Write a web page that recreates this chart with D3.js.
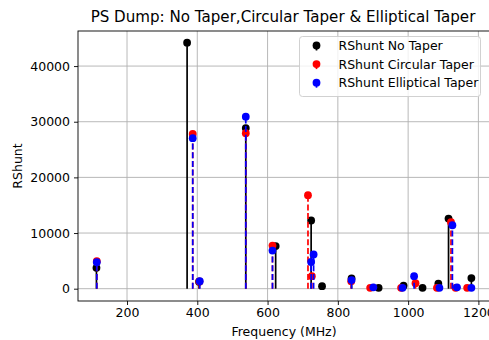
<!DOCTYPE html>
<html>
<head>
<meta charset="utf-8">
<script src="https://cdn.jsdelivr.net/npm/d3@7"></script>
<style>
  body { margin: 0; background: #fff; }
  svg { font-family: "DejaVu Sans", sans-serif; }
</style>
</head>
<body>
<svg id="chart" width="489" height="340"></svg>
<script>
// mode frequencies (MHz) and shunt impedance per taper type
const noTaperFreq = [113, 371, 405, 538, 623, 724, 755, 839, 916, 987, 1041, 1086, 1115, 1180];
const noTaperR    = [3750, 44200, 1250, 28850, 7650, 12250, 450, 1850, 150, 550, 150, 900, 12600, 1900];

const circFreq = [114, 387, 406, 538, 614, 715, 726, 838, 892, 980, 1021, 1082, 1122, 1135, 1168];
const circR    = [4950, 27800, 1300, 27950, 7750, 16800, 2250, 1350, 150, 150, 1000, 150, 11950, 150, 150];

const ellFreq = [114, 387, 407, 538, 614, 724, 731, 839, 901, 984, 1017, 1089, 1126, 1139, 1180];
const ellR    = [4750, 27050, 1350, 30900, 6850, 4800, 6150, 1550, 250, 150, 2250, 150, 11400, 250, 150];

const xTicks = [200, 400, 600, 800, 1000, 1200];
const yTicks = [0, 10000, 20000, 30000, 40000];

const series = [
  { name: "RShunt No Taper", freq: noTaperFreq, r: noTaperR, color: "#000000", dash: null },
  { name: "RShunt Circular Taper", freq: circFreq, r: circR, color: "#ff0000", dash: "6,2.7" },
  { name: "RShunt Elliptical Taper", freq: ellFreq, r: ellR, color: "#0000ff", dash: "6,2.7" }
];

const m = { left: 78, right: 490, top: 31, bottom: 301 };
const svg = d3.select("#chart");

const x = d3.scaleLinear().domain([60.5, 1233]).range([m.left, m.right]);
const y = d3.scaleLinear().domain([-2210, 46300]).range([m.bottom, m.top]);

svg.append("defs").append("clipPath").attr("id", "clip")
  .append("rect").attr("x", m.left).attr("y", m.top)
  .attr("width", m.right - m.left).attr("height", m.bottom - m.top);

// grid
const grid = svg.append("g").attr("stroke", "#b0b0b0").attr("stroke-width", 0.9);
grid.selectAll(".gx").data(xTicks).enter().append("line")
  .attr("x1", d => x(d)).attr("x2", d => x(d)).attr("y1", m.top).attr("y2", m.bottom);
grid.selectAll(".gy").data(yTicks).enter().append("line")
  .attr("x1", m.left).attr("x2", m.right).attr("y1", d => y(d)).attr("y2", d => y(d));

// stems
const plot = svg.append("g").attr("clip-path", "url(#clip)");
series.forEach(s => {
  const pts = s.freq.map((f, i) => ({ f, r: s.r[i] }));
  const g = plot.append("g");
  g.selectAll("circle").data(pts).enter().append("circle")
    .attr("cx", d => x(d.f)).attr("cy", d => y(d.r)).attr("r", 3.9)
    .attr("fill", s.color);
  g.selectAll("line").data(pts).enter().append("line")
    .attr("x1", d => x(d.f)).attr("x2", d => x(d.f))
    .attr("y1", y(0)).attr("y2", d => y(d.r))
    .attr("stroke", s.color).attr("stroke-width", 1.7)
    .attr("stroke-dasharray", s.dash);
});

// axes
const xAxis = svg.append("g").attr("transform", `translate(0,${m.bottom})`)
  .call(d3.axisBottom(x).tickValues(xTicks).tickSize(4).tickPadding(3).tickFormat(d3.format("d")));
const yAxis = svg.append("g").attr("transform", `translate(${m.left},0)`)
  .call(d3.axisLeft(y).tickValues(yTicks).tickSize(4).tickPadding(4).tickFormat(d3.format("d")));
[xAxis, yAxis].forEach(a => {
  a.select(".domain").remove();
  a.selectAll("text").attr("font-size", 12.5).attr("font-family", "DejaVu Sans").attr("fill", "#000");
  a.selectAll("line").attr("stroke", "#000").attr("stroke-width", 0.9);
});

svg.append("rect").attr("x", m.left).attr("y", m.top)
  .attr("width", m.right - m.left).attr("height", m.bottom - m.top)
  .attr("fill", "none").attr("stroke", "#000").attr("stroke-width", 0.9);

// labels
svg.append("text").attr("x", (m.left + m.right) / 2 - 1).attr("y", 22)
  .attr("text-anchor", "middle").attr("font-size", 15.1)
  .text("PS Dump: No Taper,Circular Taper & Elliptical Taper");
svg.append("text").attr("x", (m.left + m.right) / 2).attr("y", 336)
  .attr("text-anchor", "middle").attr("font-size", 12.5)
  .text("Frequency (MHz)");
svg.append("text").attr("transform", `translate(22,${(m.top + m.bottom) / 2}) rotate(-90)`)
  .attr("text-anchor", "middle").attr("font-size", 12.5)
  .text("RShunt");

// legend
const legend = svg.append("g");
legend.append("rect").attr("x", 299.5).attr("y", 36.5).attr("width", 181).attr("height", 60)
  .attr("rx", 3).attr("fill", "#fff").attr("fill-opacity", 0.8)
  .attr("stroke", "#cccccc").attr("stroke-width", 0.9);
const rows = legend.selectAll(".row").data(series).enter().append("g")
  .attr("transform", (d, i) => `translate(316.5,${45.5 + i * 18.6})`);
rows.append("line").attr("x1", 0).attr("x2", 0).attr("y1", 0).attr("y2", 5)
  .attr("stroke", d => d.color).attr("stroke-width", 1.7);
rows.append("circle").attr("r", 3.9).attr("fill", d => d.color);
rows.append("text").attr("x", 22).attr("y", 4.5).attr("font-size", 12.5)
  .text(d => d.name);
</script>
</body>
</html>
